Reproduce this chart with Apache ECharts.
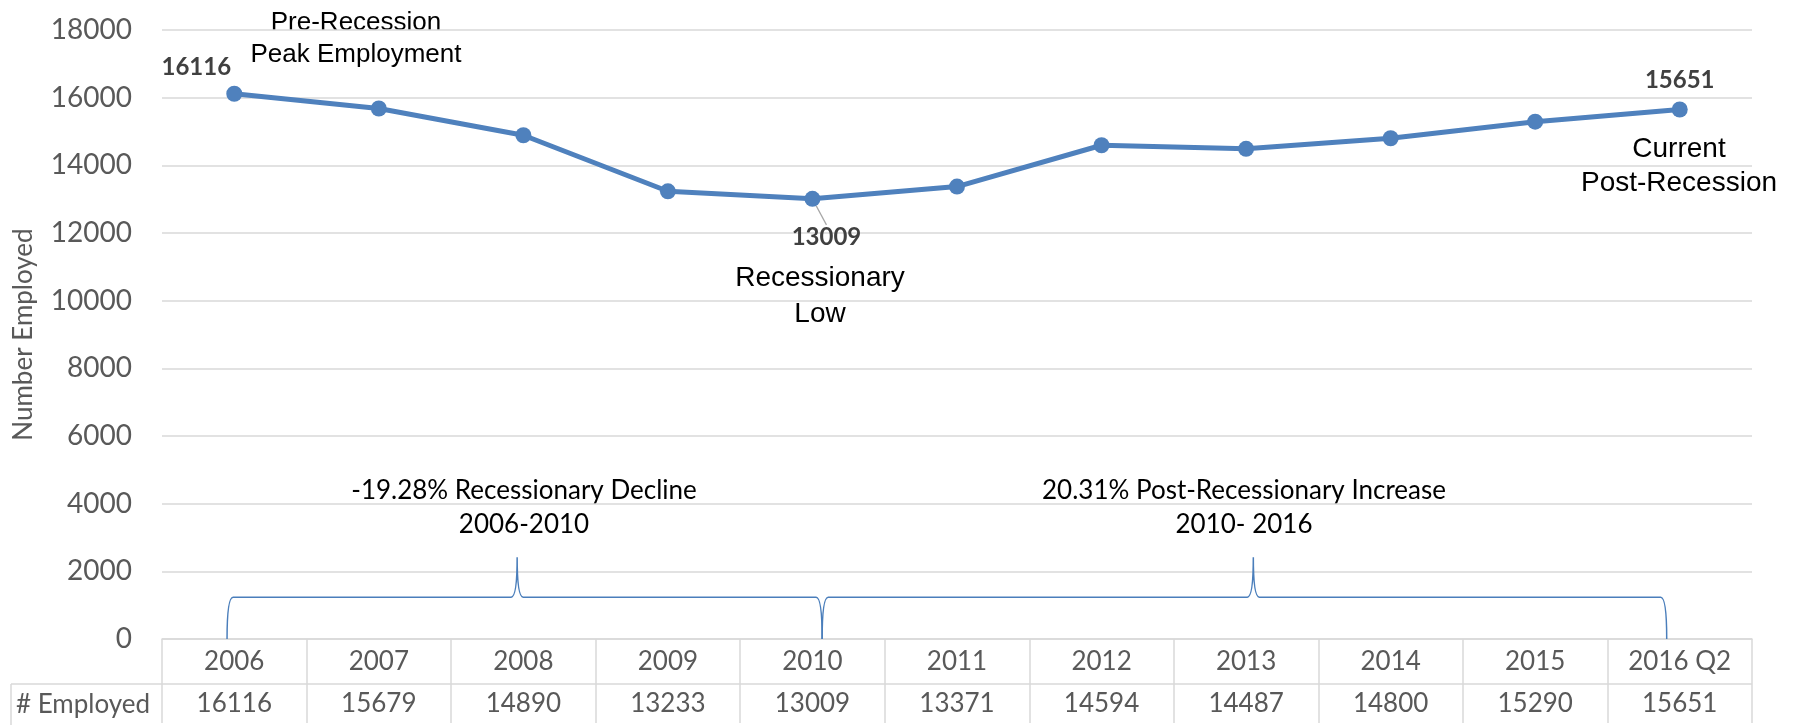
<!DOCTYPE html>
<html>
<head>
<meta charset="utf-8">
<script src="https://cdn.jsdelivr.net/npm/echarts@6/dist/echarts.min.js"></script>
<style>
  html, body { margin: 0; padding: 0; background: #fff; }
  #chart { width: 1803px; height: 725px; }
</style>
</head>
<body>
<div id="chart"></div>
<script>
// data
const years = ['2006', '2007', '2008', '2009', '2010', '2011', '2012', '2013', '2014', '2015', '2016 Q2'];
const employed = [16116, 15679, 14890, 13233, 13009, 13371, 14594, 14487, 14800, 15290, 15651];
const yMin = 0;
const yMax = 18000;
const yStep = 2000;

// brace spans: [start, tip, end] in category index units
const braceSpans = [[-0.05, 1.957, 4.067], [4.067, 7.05, 9.91]];
// brace levels in data units: base, flat, tip top
const braceLevels = [0, 1237, 2416];

const labelled = [0, 4, 10];

const calibri = 'Lato, "Open Sans", sans-serif';
const arial = '"Liberation Sans", Arial, sans-serif';
const gridColor = '#d9d9d9';

const chart = echarts.init(document.getElementById('chart'));

function braceItem(params, api) {
  const [base, flat, top] = braceLevels;
  // category coords snap to whole bands, so interpolate between band centres
  const c0 = api.coord([0, base])[0];
  const c1 = api.coord([1, base])[0];
  const px = (v) => c0 + v * (c1 - c0);
  const x0 = px(api.value(0));
  const xt = px(api.value(1));
  const x1 = px(api.value(2));
  const yb = api.coord([0, base])[1];
  const yf = api.coord([0, flat])[1];
  const yt = api.coord([0, top])[1];
  const r = 6;
  const d = [
    'M', x0, yb, 'Q', x0, yf, x0 + r, yf,
    'L', xt - r, yf, 'Q', xt, yf, xt, yt, 'Q', xt, yf, xt + r, yf,
    'L', x1 - r, yf, 'Q', x1, yf, x1, yb
  ].join(' ');
  return {
    type: 'path',
    shape: { pathData: d },
    style: { stroke: '#4a7ebb', fill: 'none', lineWidth: 1.5 }
  };
}

const labelShift = {
  0: [-38, -26],
  4: [14, 38],
  10: [0, -29]
};

const option = {
  backgroundColor: '#fff',
  animation: false,
  grid: { left: 162, right: 51, top: 30, bottom: 84, containLabel: false },
  xAxis: {
    type: 'category',
    data: years,
    boundaryGap: true,
    axisLine: { show: true, lineStyle: { color: gridColor, width: 1.5 } },
    axisTick: { show: true, interval: 0, length: 84, lineStyle: { color: gridColor, width: 1.5 } },
    axisLabel: {
      interval: 0,
      margin: 1,
      formatter: (val, idx) => '{a|' + val + '}\n{b|' + employed[idx] + '}',
      rich: {
        a: { fontFamily: calibri, fontSize: 26, color: '#595959', height: 43, lineHeight: 43 },
        b: { fontFamily: calibri, fontSize: 26, color: '#595959', height: 42, lineHeight: 42 }
      }
    }
  },
  yAxis: {
    type: 'value',
    min: yMin,
    max: yMax,
    interval: yStep,
    name: 'Number Employed',
    nameLocation: 'middle',
    nameGap: 125,
    nameTextStyle: { fontFamily: calibri, fontSize: 26, color: '#595959' },
    axisLine: { show: false },
    axisTick: { show: false },
    axisLabel: {
      fontFamily: calibri, fontSize: 28, color: '#595959', margin: 30,
      formatter: (v) => String(v)
    },
    splitLine: { lineStyle: { color: gridColor, width: 1.5 } }
  },
  series: [
    {
      type: 'line',
      data: employed.map((v, i) => {
        if (!labelled.includes(i)) return v;
        return {
          value: v,
          label: {
            show: true,
            position: 'inside',
            fontFamily: calibri,
            fontWeight: 'bold',
            fontSize: 24,
            color: '#404040'
          },
          labelLine: { show: i === 4, lineStyle: { color: '#a6a6a6', width: 1.2 } }
        };
      }),
      labelLayout: (p) => {
        const s = labelShift[p.dataIndex];
        return s ? { dx: s[0], dy: s[1] } : {};
      },
      symbol: 'circle',
      symbolSize: 16,
      lineStyle: { color: '#4f81bd', width: 5 },
      itemStyle: { color: '#4f81bd' },
      z: 3
    },
    {
      type: 'custom',
      data: braceSpans,
      encode: { x: [0, 1, 2] },
      renderItem: braceItem,
      silent: true,
      clip: false,
      z: 2
    }
  ],
  graphic: [
    // table row header and borders
    { type: 'line', shape: { x1: 11, y1: 684, x2: 1752, y2: 684 }, style: { stroke: gridColor, lineWidth: 1.5 } },
    { type: 'line', shape: { x1: 11, y1: 684, x2: 11, y2: 725 }, style: { stroke: gridColor, lineWidth: 1.5 } },
    { type: 'text', x: 83, y: 705, style: { text: '# Employed', fontFamily: calibri, fontSize: 26, fill: '#595959', align: 'center', verticalAlign: 'middle' } },
    // callouts
    { type: 'text', x: 356, y: 39, style: { text: 'Pre-Recession\nPeak Employment', fontFamily: arial, fontSize: 26, lineHeight: 32, fill: '#000', align: 'center', verticalAlign: 'middle' } },
    { type: 'text', x: 820, y: 296, style: { text: 'Recessionary\nLow', fontFamily: arial, fontSize: 28, lineHeight: 36, fill: '#000', align: 'center', verticalAlign: 'middle' } },
    { type: 'text', x: 1679, y: 166, style: { text: 'Current\nPost-Recession', fontFamily: arial, fontSize: 28, lineHeight: 34, fill: '#000', align: 'center', verticalAlign: 'middle' } },
    { type: 'text', x: 524, y: 508, style: { text: '-19.28% Recessionary Decline\n2006-2010', fontFamily: calibri, fontSize: 26, lineHeight: 34, fill: '#000', align: 'center', verticalAlign: 'middle' } },
    { type: 'text', x: 1244, y: 508, style: { text: '20.31% Post-Recessionary Increase\n2010- 2016', fontFamily: calibri, fontSize: 26, lineHeight: 34, fill: '#000', align: 'center', verticalAlign: 'middle' } }
  ]
};

chart.setOption(option);
</script>
</body>
</html>
